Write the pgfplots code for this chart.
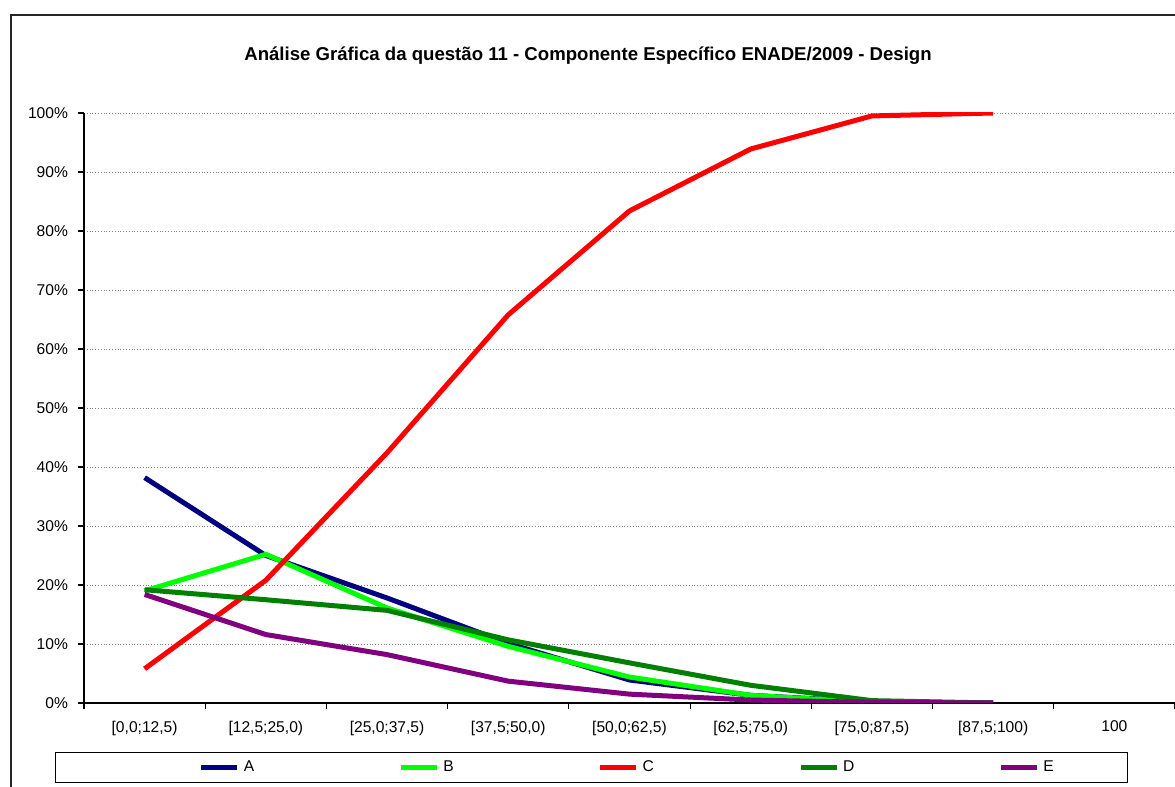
\documentclass[border=0pt]{standalone}
\usepackage{pgfplots}
\pgfplotsset{compat=1.18}
\usepackage{fontspec}
\setmainfont{Liberation Sans}
\definecolor{serA}{RGB}{0,0,128}
\definecolor{serB}{RGB}{0,255,0}
\definecolor{serC}{RGB}{255,0,0}
\definecolor{serD}{RGB}{0,128,0}
\definecolor{serE}{RGB}{128,0,128}
\begin{document}
\begin{tikzpicture}[x=1pt,y=1pt]
\begin{axis}[
  at={(0,0)}, anchor=south west,
  scale only axis, width=545.5pt, height=295pt,
  xmin=-0.5, xmax=8.5, ymin=0, ymax=100,
  axis lines*=left,
  axis line style={line width=0.75pt, black},
  xtick={0,1,2,3,4,5,6,7,8},
  xticklabels={{[0,0;12,5)},{[12,5;25,0)},{[25,0;37,5)},{[37,5;50,0)},{[50,0;62,5)},{[62,5;75,0)},{[75,0;87,5)},{[87,5;100)},{100}},
  major x tick style={draw=none},
  minor xtick={-0.5,0.5,1.5,2.5,3.5,4.5,5.5,6.5,7.5,8.5},
  ytick={0,10,20,30,40,50,60,70,80,90,100},
  yticklabels={0\%,10\%,20\%,30\%,40\%,50\%,60\%,70\%,80\%,90\%,100\%},
  tick align=outside, major tick length=3pt, minor tick length=3pt,
  tick style={black, line width=0.6pt},
  ymajorgrids, grid style={gray, densely dotted, line width=0.4pt},
  tick label style={font=\fontsize{7.8}{9}\selectfont},
  xticklabel style={yshift=-2.5pt},
  yticklabel style={xshift=-1.5pt},
  title={Análise Gráfica da questão 11 - Componente Específico ENADE/2009 - Design},
  title style={at={(0.462,1)}, anchor=center, yshift=22.5pt, font=\bfseries\fontsize{9.3}{11}\selectfont},
  legend columns=5,
  legend image code/.code={\draw[#1, line width=2.5pt] (0pt,0pt) -- (18pt,0pt);},
  legend style={at={(0.465,-0.1093)}, anchor=center, draw=black, line width=0.5pt,
    font=\fontsize{7.8}{9}\selectfont, inner xsep=34.75pt, inner ysep=2pt,
    /tikz/every even column/.append style={column sep=70pt}},
  every axis plot/.append style={line width=2.5pt, line join=round},
]
\addplot[serA, legend image code/.code={\path (0pt,0pt); \draw[serA, line width=2.5pt] (37pt,0pt) -- (55pt,0pt);}]
  coordinates {(0,38.2) (1,25.0) (2,17.8) (3,10.1) (4,3.9) (5,1.3) (6,0.2) (7,0.0)};
\addlegendentry{A}
\addplot[serB] coordinates {(0,19.0) (1,25.2) (2,16.1) (3,9.6) (4,4.4) (5,1.3) (6,0.1) (7,0.0)};
\addlegendentry{B}
\addplot[serC] coordinates {(0,5.8) (1,20.8) (2,42.4) (3,65.8) (4,83.4) (5,93.9) (6,99.5) (7,100.0)};
\addlegendentry{C}
\addplot[serD] coordinates {(0,19.2) (1,17.5) (2,15.7) (3,10.7) (4,6.8) (5,3.0) (6,0.4) (7,0.0)};
\addlegendentry{D}
\addplot[serE] coordinates {(0,18.4) (1,11.6) (2,8.2) (3,3.7) (4,1.5) (5,0.5) (6,0.1) (7,0.0)};
\addlegendentry{E}
\end{axis}
\draw[line width=0.75pt, black!85] (-36.5,-80) -- (-36.5,344) -- (620,344);
\pgfresetboundingbox
\path[use as bounding box] (-42,-42) rectangle (545.5,351.5);
\end{tikzpicture}
\end{document}
